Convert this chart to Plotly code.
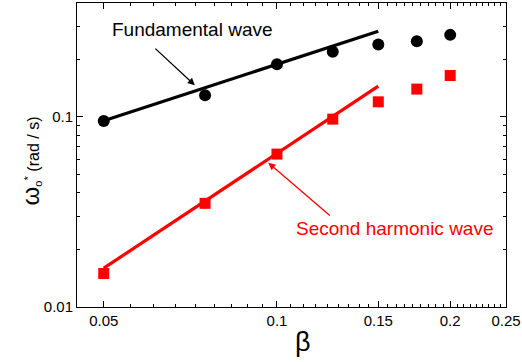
import numpy as np
import plotly.graph_objects as go

# Damping parameter beta and the measured characteristic frequencies
beta = [0.05, 0.075, 0.1, 0.125, 0.15, 0.175, 0.2]
omega_fundamental = [0.0952, 0.130, 0.189, 0.220, 0.240, 0.250, 0.270]
omega_second = [0.0150, 0.0351, 0.0637, 0.0973, 0.120, 0.140, 0.165]

# Power-law fits over the low-beta range
fit_beta = [0.05, 0.15]
fit_fundamental = [0.0955, 0.282]
fit_second = [0.0160, 0.145]

# Axis ticks
x_major = [0.05, 0.1, 0.15, 0.2, 0.25]
x_major_text = ["0.05", "0.1", "0.15", "0.2", "0.25"]
y_major = [0.01, 0.1]
y_major_text = ["0.01", "0.1"]
y_minor = [0.02, 0.03, 0.04, 0.05, 0.06, 0.07, 0.08, 0.09, 0.2, 0.3]

x_minor = []
for a, b in zip(x_major[:-1], x_major[1:]):
    step = (b - a) / 9
    x_minor += [a + k * step for k in range(1, 9)]

FONT = "Liberation Sans, Arial, sans-serif"
RED = "#ff0000"

fig = go.Figure()

fig.add_trace(go.Scatter(x=fit_beta, y=fit_fundamental, mode="lines",
                         line=dict(color="black", width=3.2), showlegend=False))
fig.add_trace(go.Scatter(x=fit_beta, y=fit_second, mode="lines",
                         line=dict(color=RED, width=3.2), showlegend=False))
fig.add_trace(go.Scatter(x=beta, y=omega_fundamental, mode="markers",
                         marker=dict(symbol="circle", size=12, color="black"),
                         showlegend=False))
fig.add_trace(go.Scatter(x=beta, y=omega_second, mode="markers",
                         marker=dict(symbol="square", size=11, color=RED),
                         showlegend=False))

x_range = [-1.3475, -0.602]
y_range = [-2.0, -0.401]

frame = dict(
    type="log", showgrid=False, zeroline=False,
    showline=True, linecolor="black", linewidth=1, mirror="allticks",
    ticks="inside", ticklen=6, tickwidth=1, tickcolor="black",
    tickfont=dict(family=FONT, size=15, color="black"),
)

fig.update_xaxes(range=x_range, tickmode="array", tickvals=x_major,
                 ticktext=x_major_text,
                 minor=dict(tickmode="array", tickvals=x_minor, ticks="inside",
                            ticklen=3, tickwidth=1, tickcolor="black",
                            showgrid=False),
                 **frame)
fig.update_yaxes(range=y_range, tickmode="array", tickvals=y_major,
                 ticktext=y_major_text,
                 minor=dict(tickmode="array", tickvals=y_minor, ticks="inside",
                            ticklen=3, tickwidth=1, tickcolor="black",
                            showgrid=False),
                 **frame)

annotations = [
    # Curve labels
    dict(text="Fundamental wave", xref="paper", yref="paper", x=0.27, y=0.9136,
         xanchor="center", yanchor="middle", showarrow=False,
         font=dict(family=FONT, size=19, color="black")),
    dict(text="Second harmonic wave", xref="paper", yref="paper", x=0.7422, y=0.2596,
         xanchor="center", yanchor="middle", showarrow=False,
         font=dict(family=FONT, size=19, color=RED)),
    # Pointers from labels to the fitted lines (log-axis coordinates)
    dict(text="", x=np.log10(0.0720), y=np.log10(0.1467), xref="x", yref="y",
         showarrow=True, ax=-41, ay=-38, arrowhead=2, arrowsize=1.1,
         arrowwidth=1.3, arrowcolor="black"),
    dict(text="", x=np.log10(0.0966), y=np.log10(0.0573), xref="x", yref="y",
         showarrow=True, ax=63, ay=54, arrowhead=2, arrowsize=1.1,
         arrowwidth=1.3, arrowcolor=RED),
    # Axis titles
    dict(text="β", xref="paper", yref="paper", x=0.5265, y=-0.115,
         xanchor="center", yanchor="middle", showarrow=False,
         font=dict(family=FONT, size=27, color="black")),
    dict(text="<span style='font-size:24px'>ω</span><sub>o</sub><sup>*</sup> (rad / s)",
         xref="paper", yref="paper", x=-0.108, y=0.481, textangle=-90,
         xanchor="center", yanchor="middle", showarrow=False,
         font=dict(family=FONT, size=16, color="black")),
]

fig.update_layout(
    template="none",
    width=522, height=362,
    margin=dict(l=77, r=16, t=3, b=55),
    paper_bgcolor="white", plot_bgcolor="white",
    annotations=annotations,
)

fig.write_html("out.html")
